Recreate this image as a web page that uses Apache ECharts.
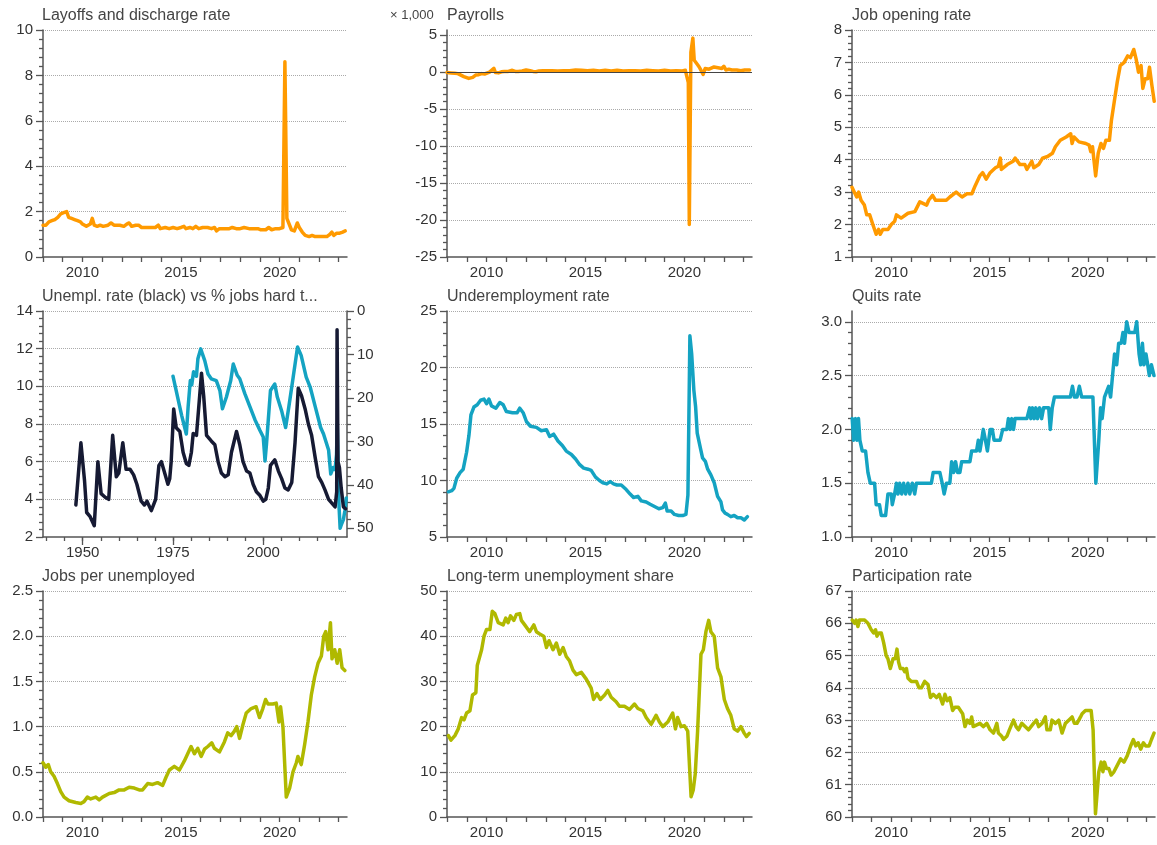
<!DOCTYPE html>
<html>
<head>
<meta charset="utf-8">
<script src="https://cdn.jsdelivr.net/npm/echarts@6/dist/echarts.min.js"></script>
<style>
  html, body { margin: 0; padding: 0; background: #fff; }
  #chart { width: 1157px; height: 845px; }
</style>
</head>
<body>
<div id="chart"></div>
<script>
// tick / label positions
const yearTicks = [2008, 2009, 2010, 2011, 2012, 2013, 2014, 2015, 2016, 2017, 2018, 2019, 2020, 2021, 2022, 2023]
const yearLabels = [2010, 2015, 2020]
const longTicks = [1940, 1945, 1950, 1955, 1960, 1965, 1970, 1975, 1980, 1985, 1990, 1995, 2000, 2005, 2010, 2015, 2020]
const longLabels = [1950, 1975, 2000]

// [year, value]
const layoffs = [[2008.0,1.4],[2008.15,1.4],[2008.3,1.55],[2008.45,1.6],[2008.6,1.65],[2008.75,1.75],[2008.9,1.9],[2009.05,1.95],[2009.2,2.0],[2009.3,1.75],[2009.45,1.7],[2009.6,1.65],[2009.75,1.6],[2009.9,1.55],[2010.0,1.45],[2010.1,1.4],[2010.2,1.35],[2010.3,1.4],[2010.4,1.45],[2010.5,1.7],[2010.6,1.4],[2010.75,1.35],[2010.9,1.4],[2011.05,1.35],[2011.3,1.4],[2011.45,1.5],[2011.6,1.4],[2011.9,1.4],[2012.1,1.35],[2012.25,1.45],[2012.37,1.5],[2012.5,1.35],[2012.7,1.4],[2012.85,1.4],[2013.0,1.3],[2013.1,1.25],[2013.3,1.3],[2013.5,1.3],[2013.7,1.3],[2013.85,1.4],[2013.95,1.25],[2014.2,1.3],[2014.4,1.25],[2014.6,1.3],[2014.8,1.25],[2015.0,1.3],[2015.15,1.35],[2015.25,1.25],[2015.45,1.3],[2015.6,1.25],[2015.75,1.35],[2015.9,1.25],[2016.1,1.3],[2016.35,1.3],[2016.55,1.25],[2016.7,1.3],[2016.8,1.15],[2016.95,1.25],[2017.2,1.25],[2017.45,1.25],[2017.6,1.3],[2017.8,1.25],[2018.0,1.25],[2018.2,1.3],[2018.45,1.25],[2018.7,1.25],[2018.9,1.25],[2019.05,1.2],[2019.15,1.25],[2019.3,1.2],[2019.45,1.3],[2019.6,1.2],[2019.8,1.25],[2020.0,1.25],[2020.17,1.3],[2020.27,8.6],[2020.37,1.7],[2020.47,1.65],[2020.6,1.2],[2020.75,1.15],[2020.9,1.5],[2021.0,1.3],[2021.15,1.1],[2021.3,0.95],[2021.5,0.9],[2021.65,0.95],[2021.8,0.9],[2022.0,0.9],[2022.2,0.9],[2022.4,0.9],[2022.55,1.0],[2022.65,1.1],[2022.75,0.95],[2022.9,1.05],[2023.05,1.05],[2023.2,1.1],[2023.33,1.15]]

const payrolls = [[2008.0,-0.05],[2008.2,-0.1],[2008.4,-0.15],[2008.55,-0.2],[2008.7,-0.4],[2008.85,-0.6],[2008.95,-0.75],[2009.1,-0.85],[2009.2,-0.75],[2009.3,-0.7],[2009.45,-0.4],[2009.6,-0.35],[2009.75,-0.2],[2009.9,-0.25],[2010.0,-0.1],[2010.15,0.0],[2010.25,0.2],[2010.37,0.5],[2010.45,-0.05],[2010.6,-0.1],[2010.75,0.05],[2010.9,0.1],[2011.1,0.1],[2011.3,0.25],[2011.45,0.1],[2011.6,0.1],[2011.8,0.15],[2012.0,0.3],[2012.2,0.2],[2012.35,0.1],[2012.5,0.05],[2012.65,0.15],[2012.85,0.2],[2013.0,0.2],[2013.3,0.2],[2013.6,0.15],[2013.9,0.2],[2014.2,0.2],[2014.5,0.3],[2014.8,0.25],[2015.1,0.2],[2015.4,0.25],[2015.7,0.15],[2016.0,0.25],[2016.3,0.15],[2016.6,0.25],[2016.9,0.15],[2017.2,0.2],[2017.5,0.2],[2017.8,0.15],[2018.1,0.25],[2018.4,0.2],[2018.7,0.15],[2019.0,0.25],[2019.3,0.15],[2019.6,0.2],[2019.9,0.15],[2020.05,0.25],[2020.15,0.2],[2020.2,-1.4],[2020.25,-20.6],[2020.33,2.7],[2020.43,4.6],[2020.5,1.6],[2020.58,1.5],[2020.67,1.0],[2020.75,0.7],[2020.83,0.3],[2020.95,-0.3],[2021.05,0.5],[2021.15,0.6],[2021.25,0.4],[2021.35,0.6],[2021.5,0.7],[2021.6,0.5],[2021.7,0.6],[2021.8,0.6],[2021.9,0.5],[2022.0,0.8],[2022.1,0.3],[2022.25,0.4],[2022.4,0.3],[2022.5,0.5],[2022.65,0.3],[2022.75,0.25],[2022.85,0.2],[2022.95,0.4],[2023.05,0.3],[2023.15,0.25],[2023.3,0.3]]

const openings = [[2008.0,3.15],[2008.12,3.0],[2008.24,2.85],[2008.34,3.0],[2008.46,2.75],[2008.63,2.6],[2008.75,2.3],[2008.9,2.3],[2009.06,2.0],[2009.23,1.7],[2009.35,1.85],[2009.44,1.7],[2009.57,1.85],[2009.83,1.85],[2010.0,2.0],[2010.17,2.1],[2010.26,2.3],[2010.5,2.2],[2010.85,2.35],[2011.2,2.4],[2011.45,2.7],[2011.8,2.6],[2011.9,2.75],[2012.1,2.9],[2012.25,2.75],[2012.8,2.75],[2012.98,2.85],[2013.3,3.0],[2013.6,2.85],[2013.85,2.95],[2014.1,2.95],[2014.27,3.2],[2014.5,3.5],[2014.65,3.6],[2014.83,3.4],[2015.03,3.6],[2015.3,3.75],[2015.45,3.8],[2015.55,4.05],[2015.6,3.7],[2015.9,3.85],[2016.2,3.95],[2016.3,4.05],[2016.55,3.85],[2016.8,3.85],[2016.9,3.7],[2017.15,3.95],[2017.25,3.75],[2017.5,3.85],[2017.7,4.05],[2017.95,4.1],[2018.2,4.2],[2018.35,4.4],[2018.6,4.6],[2018.9,4.7],[2019.13,4.8],[2019.2,4.5],[2019.3,4.7],[2019.55,4.55],[2019.9,4.5],[2020.07,4.45],[2020.15,4.25],[2020.24,4.4],[2020.4,3.5],[2020.53,4.2],[2020.67,4.5],[2020.8,4.35],[2020.92,4.6],[2021.1,4.6],[2021.2,5.2],[2021.35,5.8],[2021.5,6.4],[2021.65,6.9],[2021.85,7.0],[2022.03,7.2],[2022.17,7.15],[2022.34,7.4],[2022.46,7.1],[2022.58,6.7],[2022.71,6.9],[2022.8,6.2],[2022.92,6.5],[2023.05,6.5],[2023.14,6.85],[2023.26,6.3],[2023.38,5.8]]

const unempRate = [[1948.1,3.7],[1949.5,7.0],[1950.5,5.0],[1951.1,3.3],[1952.0,3.1],[1953.2,2.6],[1954.2,6.0],[1955.1,4.3],[1956.3,4.1],[1957.2,4.0],[1958.3,7.4],[1959.3,5.2],[1960.0,5.4],[1961.1,7.0],[1962.0,5.6],[1963.1,5.6],[1964.1,5.3],[1965.0,4.8],[1966.2,3.9],[1967.1,3.7],[1967.8,3.9],[1969.0,3.4],[1970.2,4.0],[1971.1,5.8],[1971.8,6.0],[1972.7,5.4],[1973.6,4.8],[1974.1,5.1],[1974.5,6.0],[1975.2,8.8],[1975.9,7.8],[1976.9,7.6],[1977.8,6.5],[1978.7,5.9],[1979.4,5.8],[1980.1,6.5],[1980.6,7.5],[1981.5,7.4],[1982.4,9.5],[1982.9,10.7],[1983.5,9.5],[1984.3,7.4],[1985.6,7.1],[1986.6,6.9],[1987.5,6.0],[1988.4,5.4],[1989.4,5.2],[1990.3,5.3],[1991.2,6.5],[1992.6,7.6],[1993.5,6.9],[1994.4,6.0],[1995.4,5.5],[1996.3,5.4],[1997.2,4.8],[1998.1,4.4],[1999.1,4.2],[2000.0,3.9],[2000.7,4.0],[2001.4,4.6],[2002.0,5.8],[2003.2,6.1],[2004.2,5.5],[2005.1,5.1],[2006.0,4.6],[2006.9,4.5],[2007.9,4.9],[2008.8,7.0],[2009.7,9.9],[2010.6,9.5],[2011.6,8.8],[2012.5,8.0],[2013.4,7.4],[2014.4,6.2],[2015.3,5.2],[2016.2,4.9],[2017.1,4.5],[2018.1,4.0],[2019.0,3.8],[2019.9,3.6],[2020.2,3.6],[2020.35,4.4],[2020.45,13.0],[2020.7,6.0],[2021.1,5.7],[2021.6,4.6],[2022.2,3.6],[2022.8,3.5]]

const hardToFill = [[1975.0,15],[1975.8,18],[1976.6,21],[1977.4,24],[1978.0,26],[1978.7,28.3],[1979.2,22],[1979.8,16],[1980.2,17],[1980.7,14],[1981.5,15],[1981.9,11],[1982.7,8.7],[1983.2,10],[1983.8,11.4],[1984.7,14.5],[1985.6,15.6],[1987.0,16],[1988.0,18.3],[1988.7,22.5],[1989.8,19.8],[1991.0,16],[1991.7,12.2],[1992.8,14.8],[1993.5,15.6],[1994.9,19],[1996.3,22],[1997.7,25],[1999.1,27.5],[2000.0,29],[2000.5,34.5],[2000.9,30.6],[2002.0,18.3],[2003.2,16.8],[2003.9,19.8],[2005.1,23],[2006.2,26.8],[2007.1,22],[2008.3,15.2],[2009.5,8.3],[2010.5,10.2],[2011.9,15.2],[2013.0,17.5],[2014.4,22],[2015.9,26.8],[2016.7,28.3],[2018.1,32],[2018.7,37.5],[2019.4,36],[2019.9,36.5],[2020.3,33],[2020.5,26],[2020.7,34],[2021.0,45],[2021.3,50],[2021.7,49],[2022.2,48],[2022.6,46],[2023.0,43]]

const underemp = [[2008.07,9.0],[2008.24,9.1],[2008.35,9.3],[2008.49,10.2],[2008.66,10.7],[2008.82,11.0],[2008.99,12.5],[2009.11,14.0],[2009.21,15.8],[2009.36,16.5],[2009.53,16.7],[2009.7,17.1],[2009.87,17.2],[2010.0,16.8],[2010.12,17.2],[2010.25,16.6],[2010.47,16.4],[2010.67,16.9],[2010.84,16.7],[2011.0,16.1],[2011.31,16.0],[2011.55,16.0],[2011.68,16.4],[2011.85,16.0],[2012.02,15.2],[2012.22,14.8],[2012.52,14.7],[2012.77,14.4],[2013.03,14.5],[2013.19,13.9],[2013.39,14.1],[2013.61,13.5],[2013.83,13.1],[2014.03,12.6],[2014.29,12.3],[2014.5,11.9],[2014.71,11.4],[2014.91,11.1],[2015.13,11.0],[2015.29,10.9],[2015.51,10.3],[2015.71,10.0],[2015.88,9.8],[2016.08,9.7],[2016.25,9.9],[2016.42,9.7],[2016.59,9.6],[2016.81,9.6],[2017.06,9.2],[2017.26,8.8],[2017.43,8.5],[2017.65,8.6],[2017.82,8.2],[2018.07,8.1],[2018.27,7.9],[2018.49,7.7],[2018.71,7.5],[2018.91,7.6],[2019.04,8.0],[2019.13,7.3],[2019.33,7.3],[2019.5,7.0],[2019.71,6.9],[2019.92,6.9],[2020.08,7.0],[2020.18,8.7],[2020.28,22.8],[2020.37,21.2],[2020.48,18.0],[2020.57,16.5],[2020.65,14.2],[2020.82,12.8],[2020.92,12.0],[2021.06,11.7],[2021.18,11.0],[2021.34,10.5],[2021.51,9.8],[2021.68,8.6],[2021.85,8.1],[2021.93,7.4],[2022.07,7.1],[2022.18,7.0],[2022.35,6.8],[2022.52,6.9],[2022.69,6.7],[2022.86,6.7],[2023.03,6.5],[2023.19,6.8]]

const quits = [[2008.01,2.1],[2008.08,1.9],[2008.18,2.1],[2008.25,1.9],[2008.33,2.1],[2008.4,1.9],[2008.52,1.8],[2008.69,1.8],[2008.81,1.6],[2008.93,1.5],[2009.15,1.5],[2009.23,1.3],[2009.4,1.3],[2009.49,1.2],[2009.71,1.2],[2009.83,1.4],[2010.0,1.4],[2010.05,1.3],[2010.17,1.4],[2010.26,1.5],[2010.34,1.4],[2010.43,1.5],[2010.53,1.4],[2010.63,1.5],[2010.73,1.4],[2010.85,1.5],[2010.94,1.4],[2011.07,1.5],[2011.19,1.4],[2011.28,1.5],[2012.04,1.5],[2012.13,1.6],[2012.47,1.6],[2012.59,1.5],[2012.69,1.4],[2012.81,1.5],[2012.98,1.5],[2013.07,1.7],[2013.17,1.6],[2013.27,1.7],[2013.37,1.6],[2013.49,1.6],[2013.58,1.7],[2014.0,1.7],[2014.09,1.8],[2014.34,1.8],[2014.43,1.9],[2014.51,1.8],[2014.6,1.9],[2014.68,2.0],[2014.79,1.9],[2014.89,1.8],[2015.03,2.0],[2015.14,2.0],[2015.23,1.9],[2015.54,1.9],[2015.67,2.0],[2015.88,2.0],[2015.96,2.1],[2016.05,2.0],[2016.13,2.1],[2016.22,2.0],[2016.3,2.1],[2016.9,2.1],[2017.04,2.2],[2017.1,2.1],[2017.19,2.2],[2017.27,2.1],[2017.36,2.2],[2017.44,2.1],[2017.55,2.2],[2017.65,2.1],[2017.75,2.2],[2018.01,2.2],[2018.09,2.0],[2018.19,2.2],[2018.3,2.3],[2019.11,2.3],[2019.22,2.4],[2019.32,2.3],[2019.45,2.3],[2019.57,2.4],[2019.69,2.3],[2020.26,2.3],[2020.41,1.5],[2020.56,1.9],[2020.65,2.2],[2020.73,2.1],[2020.85,2.3],[2020.95,2.3],[2021.06,2.4],[2021.16,2.3],[2021.26,2.5],[2021.36,2.7],[2021.47,2.6],[2021.57,2.8],[2021.7,2.8],[2021.79,2.9],[2021.87,2.8],[2021.98,3.0],[2022.1,2.9],[2022.39,2.9],[2022.49,3.0],[2022.61,2.7],[2022.69,2.6],[2022.78,2.8],[2022.86,2.6],[2022.96,2.7],[2023.05,2.6],[2023.13,2.5],[2023.24,2.6],[2023.37,2.5]]

const jobsPerUnemp = [[2008.0,0.6],[2008.14,0.55],[2008.27,0.58],[2008.39,0.5],[2008.56,0.45],[2008.73,0.37],[2008.9,0.28],[2009.07,0.22],[2009.32,0.18],[2009.66,0.16],[2009.92,0.15],[2010.08,0.17],[2010.25,0.22],[2010.42,0.2],[2010.68,0.22],[2010.85,0.19],[2011.02,0.22],[2011.36,0.26],[2011.61,0.27],[2011.86,0.3],[2012.12,0.3],[2012.37,0.33],[2012.63,0.32],[2012.88,0.3],[2013.05,0.3],[2013.31,0.37],[2013.56,0.36],[2013.81,0.38],[2014.07,0.35],[2014.24,0.44],[2014.41,0.52],[2014.66,0.56],[2014.92,0.52],[2015.17,0.62],[2015.34,0.7],[2015.51,0.78],[2015.68,0.7],[2015.85,0.76],[2016.02,0.67],[2016.19,0.75],[2016.36,0.78],[2016.56,0.82],[2016.69,0.76],[2016.95,0.72],[2017.2,0.83],[2017.37,0.93],[2017.54,0.9],[2017.71,0.95],[2017.83,1.0],[2017.97,0.87],[2018.14,1.02],[2018.31,1.15],[2018.56,1.2],[2018.81,1.22],[2018.98,1.1],[2019.15,1.2],[2019.29,1.3],[2019.41,1.25],[2019.66,1.25],[2019.83,1.26],[2019.97,1.05],[2020.05,1.22],[2020.17,1.0],[2020.34,0.22],[2020.51,0.32],[2020.68,0.5],[2020.85,0.6],[2020.93,0.67],[2021.1,0.58],[2021.27,0.8],[2021.44,1.05],[2021.61,1.35],[2021.78,1.55],[2021.95,1.7],[2022.12,1.78],[2022.24,2.0],[2022.34,2.05],[2022.46,1.85],[2022.58,2.15],[2022.66,1.75],[2022.8,1.85],[2022.92,1.7],[2023.05,1.85],[2023.17,1.65],[2023.31,1.62]]

const longTermShare = [[2008.07,18.0],[2008.2,17.0],[2008.4,18.0],[2008.57,19.5],[2008.74,22.0],[2008.86,21.5],[2008.99,23.0],[2009.16,23.5],[2009.29,27.0],[2009.46,27.5],[2009.53,33.5],[2009.75,37.0],[2009.87,40.0],[2010.0,41.5],[2010.17,41.5],[2010.29,45.5],[2010.42,45.0],[2010.59,43.0],[2010.84,42.5],[2010.97,44.0],[2011.09,43.0],[2011.21,44.5],[2011.38,43.5],[2011.51,44.8],[2011.68,45.0],[2011.76,43.5],[2011.93,42.5],[2012.18,41.0],[2012.39,42.5],[2012.52,41.0],[2012.69,40.5],[2012.89,40.0],[2013.03,37.5],[2013.16,39.0],[2013.36,37.0],[2013.53,38.5],[2013.7,36.0],[2013.87,37.5],[2014.03,35.5],[2014.2,34.5],[2014.37,32.5],[2014.54,31.5],[2014.79,32.0],[2015.04,30.5],[2015.29,28.5],[2015.41,26.0],[2015.58,27.3],[2015.75,26.0],[2015.97,27.0],[2016.13,28.0],[2016.3,26.5],[2016.55,25.5],[2016.72,24.5],[2016.97,24.5],[2017.23,23.8],[2017.48,25.0],[2017.65,24.0],[2017.9,23.5],[2018.07,22.0],[2018.32,20.5],[2018.57,22.5],[2018.74,21.0],[2018.91,20.0],[2019.16,21.0],[2019.41,23.0],[2019.55,19.5],[2019.66,22.0],[2019.83,20.0],[2020.0,20.2],[2020.17,19.0],[2020.34,4.5],[2020.45,6.0],[2020.55,9.5],[2020.67,19.0],[2020.84,36.0],[2020.96,37.0],[2021.09,41.0],[2021.23,43.5],[2021.34,41.0],[2021.51,40.0],[2021.68,33.0],[2021.85,31.0],[2022.02,26.0],[2022.18,24.0],[2022.35,22.5],[2022.52,19.5],[2022.69,19.0],[2022.86,20.0],[2023.03,18.5],[2023.14,17.8],[2023.28,18.5]]

const participation = [[2008.01,66.1],[2008.13,66.0],[2008.21,66.1],[2008.3,65.9],[2008.38,66.1],[2008.64,66.1],[2008.81,66.0],[2008.98,65.8],[2009.1,65.7],[2009.2,65.8],[2009.27,65.6],[2009.37,65.7],[2009.49,65.7],[2009.61,65.4],[2009.74,65.0],[2009.83,64.9],[2009.95,64.6],[2010.09,64.9],[2010.2,64.9],[2010.29,65.2],[2010.37,64.8],[2010.46,64.6],[2010.6,64.6],[2010.68,64.5],[2010.77,64.6],[2010.85,64.3],[2011.02,64.2],[2011.28,64.2],[2011.41,64.0],[2011.53,64.0],[2011.7,64.2],[2011.87,64.1],[2011.99,63.7],[2012.13,63.8],[2012.3,63.7],[2012.44,63.8],[2012.61,63.5],[2012.73,63.8],[2012.84,63.6],[2012.98,63.7],[2013.12,63.3],[2013.24,63.4],[2013.41,63.4],[2013.63,63.2],[2013.75,62.8],[2013.87,63.0],[2014.0,62.9],[2014.09,63.1],[2014.17,62.8],[2014.51,62.9],[2014.68,62.8],[2014.86,62.9],[2015.03,62.7],[2015.2,62.6],[2015.37,62.9],[2015.45,62.6],[2015.62,62.5],[2015.71,62.4],[2015.88,62.5],[2016.01,62.7],[2016.22,63.0],[2016.35,62.8],[2016.47,62.7],[2016.64,62.9],[2016.81,62.8],[2016.98,62.7],[2017.24,62.9],[2017.38,63.0],[2017.5,62.8],[2017.67,62.9],[2017.84,63.1],[2017.92,62.7],[2018.09,62.7],[2018.18,63.0],[2018.35,62.9],[2018.52,63.0],[2018.69,62.6],[2018.86,62.9],[2019.03,63.0],[2019.2,63.1],[2019.32,62.9],[2019.45,62.9],[2019.63,63.1],[2019.71,63.2],[2019.88,63.3],[2020.17,63.3],[2020.27,62.7],[2020.39,60.1],[2020.56,61.4],[2020.68,61.7],[2020.77,61.4],[2020.85,61.7],[2020.95,61.5],[2021.07,61.5],[2021.19,61.3],[2021.33,61.4],[2021.5,61.6],[2021.67,61.8],[2021.84,61.7],[2022.01,61.9],[2022.18,62.2],[2022.32,62.4],[2022.44,62.2],[2022.56,62.3],[2022.69,62.1],[2022.83,62.3],[2022.95,62.2],[2023.12,62.2],[2023.24,62.4],[2023.37,62.6]]

const ORANGE = '#ff9a00'
const TEAL = '#14a3c2'
const NAVY = '#161a33'
const OLIVE = '#b0b900'
const AXIS = '#555'
const FONT = 'Liberation Sans, Arial, sans-serif'
const LW = 3.5

const cols = [{ left: 43, width: 304 }, { left: 447, width: 305 }, { left: 852, width: 303 }]
const rows = [{ top: 30, height: 227 }, { top: 311, height: 226 }, { top: 591, height: 226 }]

const grids = []
for (let r = 0; r < 3; r++) {
  for (let c = 0; c < 3; c++) {
    grids.push({ left: cols[c].left, top: rows[r].top, width: cols[c].width, height: rows[r].height, containLabel: false })
  }
}

function xAx (gi, min, max, ticks, labels, tickLen) {
  return {
    gridIndex: gi,
    type: 'value',
    position: 'bottom',
    min: min,
    max: max,
    axisLine: { show: true, onZero: false, lineStyle: { color: AXIS, width: 1.5 } },
    axisTick: { show: true, customValues: ticks, length: tickLen || 5, lineStyle: { color: AXIS, width: 1.3 } },
    axisLabel: { customValues: labels, color: '#333', fontSize: 15, fontFamily: FONT, margin: 8, formatter: v => String(v) },
    splitLine: { show: false }
  }
}

// extra bottom axis drawing only longer ticks at labelled years
function xTickOnly (gi, min, max, ticks, tickLen) {
  return {
    gridIndex: gi, type: 'value', position: 'bottom', min: min, max: max,
    axisLine: { show: false, onZero: false },
    axisTick: { show: true, customValues: ticks, length: tickLen, lineStyle: { color: AXIS, width: 1.3 } },
    axisLabel: { show: false },
    splitLine: { show: false }
  }
}

function majors (min, max, interval) {
  const out = []
  for (let i = Math.ceil(min / interval - 1e-9); i * interval <= max + 1e-9; i++) out.push(+(i * interval).toFixed(4))
  return out
}

function minors (min, max, interval) {
  const out = []
  const step = interval / 5
  const top = majors(min, max, interval).slice(-1)[0]
  for (let i = 0; min + i * step <= top + 1e-9; i++) {
    if (i % 5 !== 0) out.push(+(min + i * step).toFixed(4))
  }
  return out
}

function yAx (gi, min, max, interval, digits, extra) {
  const ax = {
    gridIndex: gi,
    type: 'value',
    position: 'left',
    min: min,
    max: max,
    interval: interval,
    axisLine: { show: true, onZero: false, lineStyle: { color: AXIS, width: 1.5 } },
    axisTick: { show: true, customValues: majors(min, max, interval), length: 7, lineStyle: { color: AXIS, width: 1.3 } },
    axisLabel: {
      customValues: majors(min, max, interval),
      color: '#333', fontSize: 15, fontFamily: FONT, margin: 10,
      formatter: v => Number(v).toFixed(digits)
    },
    splitLine: { show: true, showMinLine: false, lineStyle: { color: '#aaa', type: 'dotted', width: 1 } }
  }
  return Object.assign(ax, extra || {})
}

// second axis on the same side drawing the minor ticks only
function yMinor (gi, min, max, interval, extra) {
  return Object.assign({
    gridIndex: gi,
    type: 'value',
    position: 'left',
    min: min,
    max: max,
    axisLine: { show: false, onZero: false },
    axisTick: { show: true, customValues: minors(min, max, interval), length: 4, lineStyle: { color: AXIS, width: 1.3 } },
    axisLabel: { show: false },
    splitLine: { show: false }
  }, extra || {})
}

function line (data, color, xi, yi, extra) {
  return Object.assign({
    type: 'line',
    data: data,
    xAxisIndex: xi,
    yAxisIndex: yi,
    showSymbol: false,
    symbol: 'none',
    lineStyle: { color: color, width: LW, join: 'round', cap: 'round' },
    itemStyle: { color: color },
    animation: false
  }, extra || {})
}

function ttl (text, left, top, size) {
  return { text: text, left: left, top: top, padding: 0, textStyle: { fontSize: size || 16, fontWeight: 'normal', color: '#444', fontFamily: FONT } }
}

const XMIN = 2008
const XMAX = 2023.42

// [grid, min, max, interval, digits]
const yDefs = [
  [0, 0, 10, 2, 0],
  [1, -25, 5.7, 5, 0],
  [2, 1, 8, 1, 0],
  [3, 2, 14, 2, 0],
  [4, 5, 25, 5, 0],
  [5, 1, 3.1, 0.5, 1],
  [6, 0, 2.5, 0.5, 1],
  [7, 0, 50, 10, 0],
  [8, 60, 67, 1, 0]
]

const yAxes = yDefs.map(d => yAx(d[0], d[1], d[2], d[3], d[4]))
// index 9: right axis of the unemployment panel, inverted
yAxes.push(yAx(3, 0, 52, 10, 0, { position: 'right', inverse: true, splitLine: { show: false } }))
// minor tick axes
yDefs.forEach(d => yAxes.push(yMinor(d[0], d[1], d[2], d[3])))
yAxes.push(yMinor(3, 0, 52, 10, { position: 'right', inverse: true }))

const xAxes = [
  xAx(0, XMIN, XMAX, yearTicks, yearLabels),
  xAx(1, XMIN, XMAX, yearTicks, yearLabels),
  xAx(2, XMIN, XMAX, yearTicks, yearLabels),
  xAx(3, 1939, 2023.2, longTicks, longLabels, 4),
  xAx(4, XMIN, XMAX, yearTicks, yearLabels),
  xAx(5, XMIN, XMAX, yearTicks, yearLabels),
  xAx(6, XMIN, XMAX, yearTicks, yearLabels),
  xAx(7, XMIN, XMAX, yearTicks, yearLabels),
  xAx(8, XMIN, XMAX, yearTicks, yearLabels),
  xTickOnly(3, 1939, 2023.2, longLabels, 8)
]

const option = {
  backgroundColor: '#fff',
  animation: false,
  title: [
    ttl('Layoffs and discharge rate', 42, 8),
    ttl('× 1,000', 390, 9, 13),
    ttl('Payrolls', 447, 8),
    ttl('Job opening rate', 852, 8),
    ttl('Unempl. rate (black) vs % jobs hard t...', 42, 289),
    ttl('Underemployment rate', 447, 289),
    ttl('Quits rate', 852, 289),
    ttl('Jobs per unemployed', 42, 569),
    ttl('Long-term unemployment share', 447, 569),
    ttl('Participation rate', 852, 569)
  ],
  grid: grids,
  xAxis: xAxes,
  yAxis: yAxes,
  series: [
    line(layoffs, ORANGE, 0, 0),
    line(payrolls, ORANGE, 1, 1, {
      markLine: {
        silent: true, symbol: 'none', animation: false,
        label: { show: false },
        lineStyle: { color: '#444', type: 'solid', width: 1 },
        data: [{ yAxis: 0 }]
      }
    }),
    line(openings, ORANGE, 2, 2),
    line(hardToFill, TEAL, 3, 9),
    line(unempRate, NAVY, 3, 3),
    line(underemp, TEAL, 4, 4),
    line(quits, TEAL, 5, 5),
    line(jobsPerUnemp, OLIVE, 6, 6),
    line(longTermShare, OLIVE, 7, 7),
    line(participation, OLIVE, 8, 8)
  ]
}

const chart = echarts.init(document.getElementById('chart'), null, { renderer: 'canvas' })
chart.setOption(option)
</script>
</body>
</html>
